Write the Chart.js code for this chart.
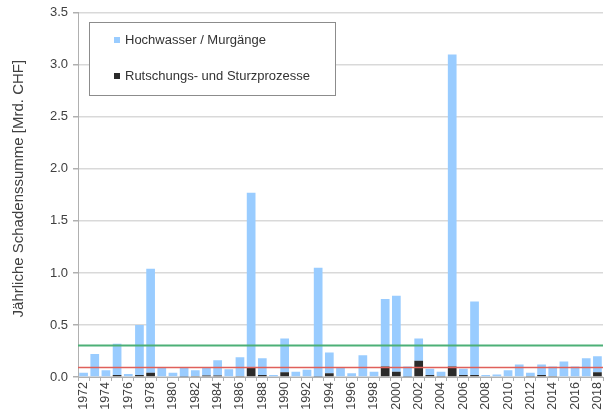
<!DOCTYPE html>
<html><head><meta charset="utf-8">
<script src="https://cdn.jsdelivr.net/npm/chart.js@4"></script>
<style>html,body{margin:0;padding:0;background:#fff}#wrap{width:604px;height:413px}</style>
</head><body><div id="wrap"><canvas id="c" width="604" height="413"></canvas></div>
<script>
const years = ["1972","1973","1974","1975","1976","1977","1978","1979","1980","1981","1982","1983","1984","1985","1986","1987","1988","1989","1990","1991","1992","1993","1994","1995","1996","1997","1998","1999","2000","2001","2002","2003","2004","2005","2006","2007","2008","2009","2010","2011","2012","2013","2014","2015","2016","2017","2018"];
const hochwasser = [0.04,0.22,0.065,0.30,0.03,0.48,1.00,0.09,0.04,0.085,0.055,0.075,0.145,0.075,0.18,1.68,0.16,0.02,0.325,0.05,0.07,1.045,0.20,0.09,0.035,0.21,0.05,0.65,0.73,0.095,0.215,0.06,0.04,3.00,0.06,0.705,0.02,0.025,0.065,0.12,0.03,0.10,0.09,0.15,0.10,0.18,0.155];
const rutschung = [0,0,0,0.02,0,0.02,0.04,0,0,0.005,0.01,0.015,0.015,0,0.01,0.09,0.02,0,0.045,0,0,0.005,0.035,0,0,0,0,0.10,0.05,0.005,0.155,0.02,0.01,0.10,0.02,0.02,0,0,0,0,0.01,0.02,0.01,0,0,0,0.045];
const meanTotal = 0.31;
const meanRutschung = 0.10;
const yTicks = [0,0.5,1.0,1.5,2.0,2.5,3.0,3.5];

const FONT = "'Liberation Sans', Arial, sans-serif";
const TXT = '#404040';

const extras = {
  id: 'extras',
  afterDatasetsDraw(chart) {
    const {ctx, chartArea, scales} = chart;
    const y = scales.y;
    const lines = [[meanTotal, '#4cb077', 2], [meanRutschung, '#e0605a', 1.5]];
    ctx.save();
    lines.forEach(([v, col, w]) => {
      const py = Math.round(y.getPixelForValue(v)) + 0.5;
      ctx.strokeStyle = col; ctx.lineWidth = w;
      ctx.beginPath(); ctx.moveTo(chartArea.left, py); ctx.lineTo(chartArea.right, py); ctx.stroke();
    });
    // legend box
    const bx = 89.5, by = 22.5, bw = 246, bh = 73;
    ctx.fillStyle = '#fff'; ctx.fillRect(bx, by, bw, bh);
    ctx.strokeStyle = '#8c8c8c'; ctx.lineWidth = 1; ctx.strokeRect(bx, by, bw, bh);
    const items = [chart.data.datasets[1], chart.data.datasets[0]];
    const ys = [40, 76];
    ctx.font = '13px ' + FONT; ctx.textBaseline = 'middle'; ctx.textAlign = 'left';
    items.forEach((ds, i) => {
      ctx.fillStyle = ds.backgroundColor;
      ctx.fillRect(114, ys[i] - 3, 6, 6);
      ctx.fillStyle = '#333';
      ctx.fillText(ds.label, 125, ys[i] + 0.5);
    });
    ctx.restore();
  }
};

new Chart(document.getElementById('c'), {
  type: 'bar',
  data: {
    labels: years,
    datasets: [
      {label: 'Rutschungs- und Sturzprozesse', data: rutschung, backgroundColor: '#2b2b2b', barPercentage: 0.78, categoryPercentage: 1.0},
      {label: 'Hochwasser / Murgänge', data: hochwasser, backgroundColor: '#99ccff', barPercentage: 0.78, categoryPercentage: 1.0}
    ]
  },
  options: {
    responsive: false, animation: false,
    layout: {padding: {top: 11, right: 1, left: 0, bottom: 0}},
    plugins: {legend: {display: false}, tooltip: {enabled: false}},
    scales: {
      x: {
        stacked: true,
        grid: {display: true, drawOnChartArea: false, drawTicks: true, tickLength: 4, color: '#b0b0b0', offset: true},
        border: {color: '#b0b0b0'},
        afterFit: (ax) => { ax.paddingRight = 0; ax.paddingLeft = 0; ax.height = 36; },
        ticks: {
          autoSkip: false, maxRotation: 90, minRotation: 90, color: TXT, padding: 1,
          font: {family: FONT, size: 12.5},
          callback: function(v, i) { return (i % 2 === 0) ? years[i] : ''; }
        }
      },
      y: {
        stacked: true, min: 0, max: 3.5,
        afterBuildTicks: (ax) => { ax.ticks = yTicks.map(v => ({value: v})); },
        afterFit: (ax) => { ax.width = 78; },
        grid: {color: '#d9d9d9', lineWidth: 1.5, tickLength: 5, tickColor: '#b0b0b0'},
        border: {color: '#b0b0b0'},
        ticks: {color: TXT, font: {family: FONT, size: 13}, padding: 5, callback: v => v.toFixed(1)},
        title: {display: true, text: '   Jährliche Schadenssumme [Mrd. CHF]', color: TXT, font: {family: FONT, size: 15}, padding: {top: 10, bottom: 2}}
      }
    }
  },
  plugins: [extras]
});
</script></body></html>
